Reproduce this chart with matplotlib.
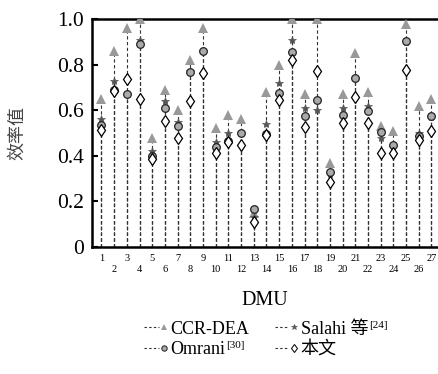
import matplotlib
matplotlib.use("Agg")
import matplotlib.pyplot as plt
from matplotlib.lines import Line2D
from matplotlib.legend_handler import HandlerLine2D
import numpy as np

plt.rcParams['font.family'] = ['Liberation Serif', 'Noto Sans CJK SC']

# efficiency values, DMU 1..27
dmu = np.arange(1, 28)
ccr = [0.65, 0.86, 0.96, 1.00, 0.48, 0.69, 0.60, 0.82, 0.96, 0.52,
       0.58, 0.56, 0.15, 0.68, 0.80, 1.00, 0.67, 1.00, 0.37, 0.67,
       0.85, 0.68, 0.53, 0.51, 0.98, 0.62, 0.65]
salahi = [0.56, 0.73, 0.67, 0.91, 0.42, 0.64, 0.55, 0.77, 0.86, 0.46,
          0.50, 0.50, 0.13, 0.54, 0.72, 0.91, 0.61, 0.60, 0.32, 0.61,
          0.74, 0.62, 0.48, 0.44, 0.90, 0.50, 0.57]
omrani = [0.535, 0.69, 0.67, 0.89, 0.40, 0.61, 0.53, 0.766, 0.86, 0.44,
          0.465, 0.50, 0.165, 0.495, 0.675, 0.857, 0.575, 0.645, 0.33, 0.58,
          0.74, 0.596, 0.506, 0.447, 0.905, 0.485, 0.575]
ours = [0.513, 0.685, 0.735, 0.65, 0.385, 0.553, 0.477, 0.642, 0.762, 0.414,
        0.46, 0.447, 0.111, 0.49, 0.645, 0.82, 0.525, 0.773, 0.286, 0.542,
        0.657, 0.542, 0.411, 0.41, 0.776, 0.469, 0.51]

tick_labels = [str(i) if i % 2 else "\n" + str(i) for i in dmu]

series = [
    (ccr, dict(marker='^', color='#999999', mec='#999999', ms=7, mew=0)),
    (salahi, dict(marker='*', color='#555555', mec='#555555', ms=6, mew=0.5)),
    (omrani, dict(marker='o', color='#aaaaaa', mec='#222222', ms=5.5, mew=0.9)),
    (ours, dict(marker='d', color='white', mec='black', ms=6.5, mew=0.9)),
]
names = ['CCR-DEA', 'Salahi 等', 'Omrani', '本文']

fig = plt.figure(figsize=(4.38, 3.74), dpi=100)
ax = fig.add_axes([0.210, 0.340, 0.788, 0.609])

for vals, st in series:
    ax.vlines(dmu, 0, vals, colors='#333333', linestyles=(0, (3, 2.2)), lw=0.8, zorder=1)
for vals, st in series:
    ax.plot(dmu, vals, ls='none', zorder=3, **st)

ax.set_xlim(0.25, 27.45)
ax.set_ylim(0, 1.0)
ax.set_yticks([0, 0.2, 0.4, 0.6, 0.8, 1.0])
ax.set_yticklabels(['0', '0.2', '0.4', '0.6', '0.8', '1.0'], fontsize=15.5)
ax.set_xticks(dmu)
ax.set_xticklabels(tick_labels, fontsize=7.5, linespacing=1.35)
ax.tick_params(axis='x', length=0, pad=5)
ax.tick_params(axis='y', direction='in', length=4, width=1.5, pad=6)
for s in ['left', 'bottom', 'top']:
    ax.spines[s].set_linewidth(1.8)
ax.spines['right'].set_visible(False)

ax.set_xlabel('DMU', fontsize=14.5, labelpad=12)
ax.set_ylabel('效率值', fontsize=13, color='#444444')
ax.yaxis.set_label_coords(-0.19, 0.5)


class EndMarker(HandlerLine2D):
    def create_artists(self, legend, orig_handle, xdescent, ydescent,
                       width, height, fontsize, trans):
        y = height / 2 - ydescent
        x0 = -xdescent
        x1 = x0 + width
        line = Line2D([x0, x1 - 4], [y, y], color='#333333', lw=0.8,
                      ls=(0, (2.2, 2)))
        mk = Line2D([x1], [y], ls='none', marker=orig_handle.get_marker(),
                    color=orig_handle.get_color(),
                    mec=orig_handle.get_markeredgecolor(),
                    ms=orig_handle.get_markersize() * 0.7,
                    mew=orig_handle.get_markeredgewidth() * 0.8)
        line.set_transform(trans)
        mk.set_transform(trans)
        return [line, mk]


handles = [Line2D([], [], **st) for _, st in series]
# order: CCR, Omrani in column 1; Salahi, ours in column 2
order = [0, 2, 1, 3]
leg = fig.legend([handles[i] for i in order], [names[i] for i in order],
                 ncol=2, loc='center', bbox_to_anchor=(0.585, 0.092),
                 frameon=False, fontsize=13, handlelength=1.1,
                 handletextpad=0.35, columnspacing=1.4, labelspacing=0.2,
                 handler_map={Line2D: EndMarker()})

fig.canvas.draw()
r = fig.canvas.get_renderer()
sups = {'Salahi 等': '[24]', 'Omrani': '[30]'}
for t in leg.get_texts():
    if t.get_text() in sups:
        bb = t.get_window_extent(r)
        fig.text((bb.x1 + 1) / fig.bbox.width, (bb.y0 + bb.height * 0.6) / fig.bbox.height,
                 sups[t.get_text()], fontsize=8)

fig.savefig('out.png', dpi=100)
